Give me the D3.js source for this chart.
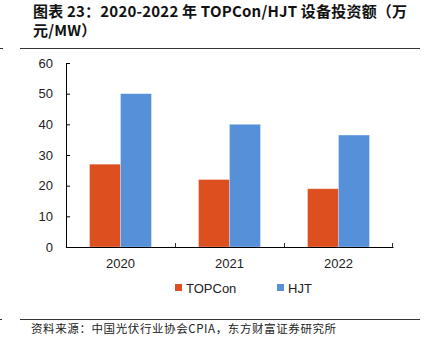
<!DOCTYPE html>
<html>
<head>
<meta charset="utf-8">
<script src="https://cdn.jsdelivr.net/npm/d3@7"></script>
<style>
  body { margin: 0; background: #fff; }
  svg { display: block; }
</style>
</head>
<body>
<div id="chart"></div>
<script>
const years = ["2020", "2021", "2022"];
const seriesNames = ["TOPCon", "HJT"];
const topcon = [27, 22, 19];
const hjt = [50, 40, 36.5];
const yTicks = [0, 10, 20, 30, 40, 50, 60];
const colors = ["#DD4F1F", "#5590D8"];

const width = 424, height = 351;
const margin = { left: 66, right: 31, top: 63, bottom: 104 };

const svg = d3.select("#chart").append("svg")
  .attr("width", width)
  .attr("height", height);

// title
const title = svg.append("text")
  .attr("x", 33)
  .attr("font-family", "'Noto Sans CJK SC', sans-serif")
  .attr("font-weight", "bold")
  .attr("font-size", 15)
  .attr("letter-spacing", 0.2)
  .attr("fill", "#111");
title.append("tspan").attr("x", 33).attr("y", 17).text("图表 23：2020-2022 年 TOPCon/HJT 设备投资额（万");
title.append("tspan").attr("x", 33).attr("y", 36).text("元/MW）");

svg.append("line").attr("x1", 20).attr("x2", 420).attr("y1", 48.5).attr("y2", 48.5)
  .attr("stroke", "#333").attr("stroke-width", 1);
svg.append("line").attr("x1", 0).attr("x2", 3).attr("y1", 48.5).attr("y2", 48.5)
  .attr("stroke", "#333").attr("stroke-width", 1);

const x0 = d3.scaleBand()
  .domain(years)
  .range([margin.left, width - margin.right])
  .paddingInner(0)
  .paddingOuter(0);

const x1 = d3.scaleBand()
  .domain(seriesNames)
  .range([0, x0.bandwidth()])
  .paddingInner(0)
  .paddingOuter(0.76);

const y = d3.scaleLinear()
  .domain([0, 60])
  .range([height - margin.bottom, margin.top]);

const data = years.map((yr, i) => ({ year: yr, values: [topcon[i], hjt[i]] }));

// bars
const groups = svg.selectAll("g.grp")
  .data(data)
  .enter().append("g")
  .attr("class", "grp")
  .attr("transform", d => "translate(" + x0(d.year) + ",0)");

groups.selectAll("rect")
  .data(d => d.values.map((v, k) => ({ name: seriesNames[k], v: v, k: k })))
  .enter().append("rect")
  .attr("x", d => x1(d.name))
  .attr("width", x1.bandwidth())
  .attr("y", d => y(d.v))
  .attr("height", d => y(0) - y(d.v))
  .attr("fill", d => colors[d.k])
  .attr("stroke", "rgba(255,255,255,0.35)")
  .attr("stroke-width", 0.8);

// y axis
const yAxis = svg.append("g")
  .attr("transform", "translate(" + margin.left + ",0)")
  .call(d3.axisLeft(y).tickValues(yTicks).tickSizeInner(-4).tickSizeOuter(0).tickPadding(13));
yAxis.select(".domain").attr("stroke", "#000");
yAxis.selectAll(".tick line").attr("stroke", "#000");
yAxis.selectAll("text")
  .attr("font-family", "'Liberation Sans', Arial, sans-serif")
  .attr("font-size", 13)
  .attr("fill", "#222");

// x axis
const xAxis = svg.append("g")
  .attr("transform", "translate(0," + y(0) + ")")
  .call(d3.axisBottom(x0).tickSize(0).tickPadding(12));
xAxis.select(".domain").attr("stroke", "#000");
xAxis.selectAll("text")
  .attr("font-family", "'Liberation Sans', Arial, sans-serif")
  .attr("font-size", 13)
  .attr("fill", "#222");

// category boundary ticks (inward)
const bounds = years.slice(1).map(d => x0(d));
svg.selectAll("line.bt")
  .data(bounds)
  .enter().append("line")
  .attr("class", "bt")
  .attr("x1", d => d + 0.5).attr("x2", d => d + 0.5)
  .attr("y1", y(0)).attr("y2", y(0) - 4)
  .attr("stroke", "#333");
svg.append("line")
  .attr("x1", x0.range()[1] - 0.5).attr("x2", x0.range()[1] - 0.5)
  .attr("y1", y(0)).attr("y2", y(0) - 4)
  .attr("stroke", "#333");

// legend
const legendX = [175, 277];
const legend = svg.selectAll("g.leg")
  .data(seriesNames)
  .enter().append("g")
  .attr("class", "leg")
  .attr("transform", (d, i) => "translate(" + legendX[i] + ",288)");
legend.append("rect")
  .attr("x", 0).attr("y", -4)
  .attr("width", 7).attr("height", 7)
  .attr("fill", (d, i) => colors[i]);
legend.append("text")
  .attr("x", 11).attr("y", 0)
  .attr("dy", "0.36em")
  .attr("font-family", "'Liberation Sans', Arial, sans-serif")
  .attr("font-size", 13)
  .attr("fill", "#222")
  .text(d => d);

// source
svg.append("line").attr("x1", 20).attr("x2", 420).attr("y1", 319.5).attr("y2", 319.5)
  .attr("stroke", "#333").attr("stroke-width", 1);
svg.append("line").attr("x1", 0).attr("x2", 2).attr("y1", 319.5).attr("y2", 319.5)
  .attr("stroke", "#333").attr("stroke-width", 1);
svg.append("text")
  .attr("x", 31).attr("y", 333)
  .attr("font-family", "'Noto Sans CJK SC', sans-serif")
  .attr("font-size", 11.5)
  .attr("letter-spacing", 0.6)
  .attr("fill", "#222")
  .text("资料来源：中国光伏行业协会CPIA，东方财富证券研究所");
</script>
</body>
</html>
